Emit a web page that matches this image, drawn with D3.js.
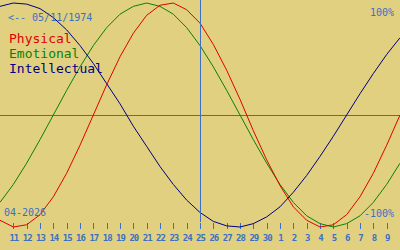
<!DOCTYPE html>
<html>
<head>
<meta charset="UTF-8">
<title>Biorhythm</title>
<script src="https://cdn.jsdelivr.net/npm/d3@7"></script>
<style>
  body { margin: 0; background: #e0d080; }
  svg { display: block; }
</style>
</head>
<body>
<script>
// day labels, 10 Apr .. 10 May 2026 (first and last are off the tick row)
var dayLabels = ["10","11","12","13","14","15","16","17","18","19","20","21","22","23","24","25",
                 "26","27","28","29","30","1","2","3","4","5","6","7","8","9","10"];

// values in percent, one per day
var physical = [-94,-100,-98,-89,-73,-52,-27,0,27,52,73,89,98,100,94,82,63,40,14,-14,-40,-63,-82,-94,-100,-98,-89,-73,-52,-27,0];
var emotional = [-78,-62,-43,-22,0,22,43,62,78,90,97,100,97,90,78,62,43,22,0,-22,-43,-62,-78,-90,-97,-100,-97,-90,-78,-62,-43];
var intellectual = [97,100,99,95,87,76,62,46,28,10,-10,-28,-46,-62,-76,-87,-95,-99,-100,-97,-91,-82,-69,-54,-37,-19,0,19,37,54,69];

var series = [
  {name: "Emotional", values: emotional, color: "#0a800a"},
  {name: "Physical", values: physical, color: "#e00000"},
  {name: "Intellectual", values: intellectual, color: "#000080"}
];
var legendNames = ["Physical", "Emotional", "Intellectual"];
var legendColors = ["#e00000", "#0a800a", "#000080"];

var birthLabel = "<-- 05/11/1974";
var monthLabel = "04-2026";
var cursorDay = 15; // 25 Apr

var width = 400, height = 250;
var blue = "#3a70c4";

var svg = d3.select("body").append("svg")
    .attr("width", width)
    .attr("height", height);

svg.append("rect").attr("width", width).attr("height", height).attr("fill", "#e0d080");

var x = d3.scaleLinear().domain([0, dayLabels.length - 1]).range([0, width]);
var y = d3.scaleLinear().domain([-100, 100]).range([227, 3]);

// zero line
svg.append("line")
    .attr("x1", 0).attr("x2", width)
    .attr("y1", y(0) + 0.5).attr("y2", y(0) + 0.5)
    .attr("stroke", "#566c8c")
    .attr("stroke-width", 1);

// day ticks
var xAxis = d3.axisBottom(x)
    .tickValues(d3.range(1, dayLabels.length - 1))
    .tickFormat(function (d) { return dayLabels[d]; })
    .tickSize(6);

var ax = svg.append("g")
    .attr("transform", "translate(0,223)")
    .call(xAxis);
ax.select(".domain").remove();
ax.selectAll("line").attr("stroke", blue).attr("shape-rendering", "crispEdges");
ax.selectAll("text")
    .attr("y", 18).attr("dy", 0)
    .attr("fill", blue)
    .style("font-family", "DejaVu Sans Mono")
    .style("font-size", "9px")
    .style("font-weight", "bold")
    .style("letter-spacing", "-1px");

// curves
var line = d3.line()
    .x(function (d, i) { return x(i); })
    .y(function (d) { return y(d); });

series.forEach(function (s) {
  svg.append("path")
      .attr("d", line(s.values))
      .attr("fill", "none")
      .attr("stroke", s.color)
      .attr("stroke-width", 1);
});

// cursor line
svg.append("line")
    .attr("x1", x(cursorDay) + 0.5).attr("x2", x(cursorDay) + 0.5)
    .attr("y1", 0).attr("y2", 222)
    .attr("stroke", blue)
    .attr("stroke-width", 1);

// texts
var mono = "DejaVu Sans Mono";
svg.append("text").attr("x", 8).attr("y", 21)
    .attr("fill", blue).style("font-family", mono).style("font-size", "10px")
    .text(birthLabel);

svg.append("text").attr("x", 394).attr("y", 16).attr("text-anchor", "end")
    .attr("fill", blue).style("font-family", mono).style("font-size", "10px")
    .text("100%");

svg.append("text").attr("x", 394).attr("y", 217).attr("text-anchor", "end")
    .attr("fill", blue).style("font-family", mono).style("font-size", "10px")
    .text("-100%");

svg.append("text").attr("x", 4).attr("y", 216)
    .attr("fill", blue).style("font-family", mono).style("font-size", "10px")
    .text(monthLabel);

legendNames.forEach(function (n, i) {
  svg.append("text").attr("x", 9).attr("y", 43 + i * 15)
      .attr("fill", legendColors[i])
      .style("font-family", mono).style("font-size", "13px")
      .text(n);
});
</script>
</body>
</html>
